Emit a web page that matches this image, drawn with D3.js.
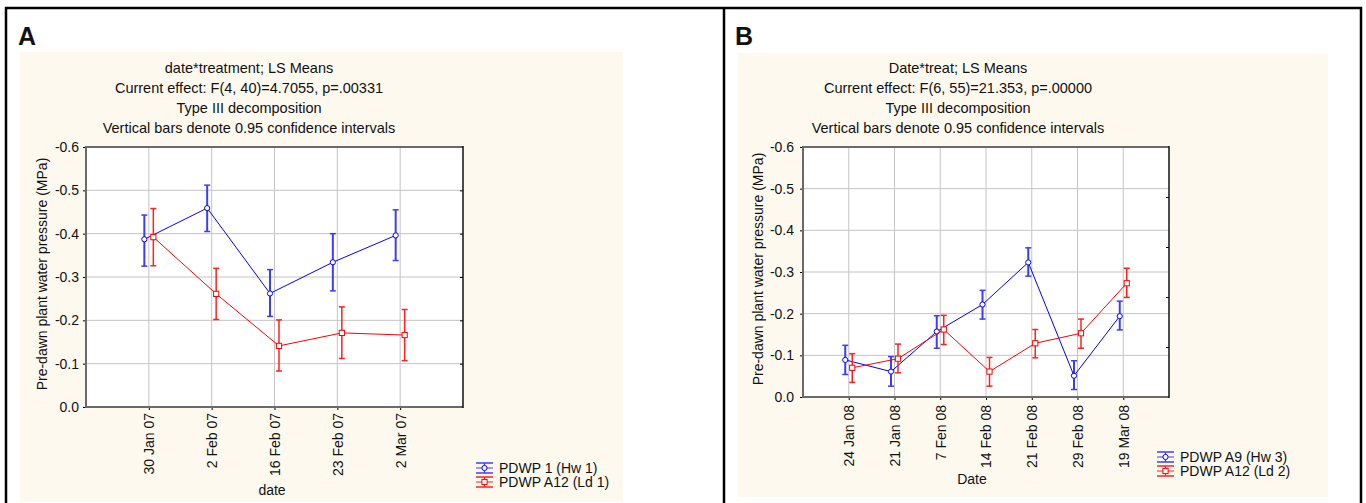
<!DOCTYPE html>
<html>
<head>
<meta charset="utf-8">
<script src="https://cdn.jsdelivr.net/npm/d3@7"></script>
<style>
  body { margin: 0; background: #fff; }
  text { font-family: "Liberation Sans", Arial, sans-serif; fill: #111; }
</style>
</head>
<body>
<svg id="chart" width="1366" height="503"></svg>
<script>
// panel A data
const datesA = ['30 Jan 07', '2 Feb 07', '16 Feb 07', '23 Feb 07', '2 Mar 07'];
const hwA = [-0.387, -0.459, -0.262, -0.334, -0.396];
const hwALo = [-0.325, -0.405, -0.209, -0.268, -0.338];
const hwAHi = [-0.443, -0.512, -0.317, -0.400, -0.455];
const ldA = [-0.392, -0.261, -0.141, -0.171, -0.166];
const ldALo = [-0.326, -0.202, -0.083, -0.112, -0.107];
const ldAHi = [-0.458, -0.320, -0.201, -0.231, -0.225];
const titleA = ['date*treatment; LS Means', 'Current effect: F(4, 40)=4.7055, p=.00331',
  'Type III decomposition', 'Vertical bars denote 0.95 confidence intervals'];
const legendA = ['PDWP 1 (Hw 1)', 'PDWP A12 (Ld 1)'];

// panel B data
const datesB = ['24 Jan 08', '21 Jan 08', '7 Fen 08', '14 Feb 08', '21 Feb 08', '29 Feb 08', '19 Mar 08'];
const hwB = [-0.089, -0.061, -0.157, -0.222, -0.323, -0.051, -0.194];
const hwBLo = [-0.054, -0.026, -0.117, -0.187, -0.290, -0.018, -0.161];
const hwBHi = [-0.124, -0.097, -0.195, -0.256, -0.358, -0.087, -0.230];
const ldB = [-0.070, -0.092, -0.162, -0.061, -0.129, -0.153, -0.273];
const ldBLo = [-0.035, -0.058, -0.126, -0.026, -0.094, -0.117, -0.239];
const ldBHi = [-0.104, -0.127, -0.196, -0.095, -0.162, -0.187, -0.309];
const titleB = ['Date*treat; LS Means', 'Current effect: F(6, 55)=21.353, p=.00000',
  'Type III decomposition', 'Vertical bars denote 0.95 confidence intervals'];
const legendB = ['PDWP A9 (Hw 3)', 'PDWP A12 (Ld 2)'];

const yTicks = [0, -0.1, -0.2, -0.3, -0.4, -0.5, -0.6];
const BLUE = '#0000ff';
const RED = '#ff0000';
const FS = '14px';

const svg = d3.select('#chart');

// outer boxes
svg.append('path')
  .attr('d', 'M6,503 V8 H1361 V503 M724,8 V503')
  .attr('fill', 'none')
  .attr('stroke', '#000')
  .attr('stroke-width', 2.5);

function drawPanel(p) {
  const g = svg.append('g');
  g.append('rect')
    .attr('x', p.cream[0]).attr('y', p.cream[1])
    .attr('width', p.cream[2]).attr('height', p.cream[3])
    .attr('fill', '#fdf9ef');

  g.append('text')
    .attr('x', p.letterX).attr('y', 45)
    .style('font-size', '25px').style('font-weight', 'bold')
    .text(p.letter);

  g.selectAll('.title')
    .data(p.title)
    .enter().append('text')
    .attr('x', p.titleX)
    .attr('y', (d, i) => 73 + i * 20)
    .attr('text-anchor', 'middle')
    .style('font-size', '14.5px')
    .text((d) => d);

  const x = d3.scaleLinear()
    .domain([0, p.dates.length + 1])
    .range([p.left, p.right]);
  const y = d3.scaleLinear()
    .domain([0, -0.6])
    .range([p.bottom, p.top]);
  const cats = p.dates.map((d, i) => i + 1);

  g.append('rect')
    .attr('x', p.left).attr('y', p.top)
    .attr('width', p.right - p.left).attr('height', p.bottom - p.top)
    .attr('fill', '#fff');

  // grid
  g.selectAll('.vgrid')
    .data(cats)
    .enter().append('line')
    .attr('x1', (d) => x(d)).attr('x2', (d) => x(d))
    .attr('y1', p.top).attr('y2', p.bottom)
    .attr('stroke', '#c4c4c4');
  g.selectAll('.hgrid')
    .data(yTicks.slice(1, -1))
    .enter().append('line')
    .attr('x1', p.left).attr('x2', p.right)
    .attr('y1', (d) => y(d)).attr('y2', (d) => y(d))
    .attr('stroke', '#c4c4c4');

  // axes
  const yAxis = d3.axisLeft(y)
    .tickValues(yTicks)
    .tickFormat((d) => d.toFixed(1))
    .tickSize(3)
    .tickPadding(p.yPad);
  const ya = g.append('g')
    .attr('transform', `translate(${p.left},0)`)
    .call(yAxis);
  ya.select('.domain').remove();
  ya.selectAll('text').style('font-size', FS).attr('fill', '#111');

  const rAxis = d3.axisRight(y)
    .tickValues(p.rightTicks)
    .tickFormat('')
    .tickSize(-3);
  const ra = g.append('g')
    .attr('transform', `translate(${p.right},0)`)
    .call(rAxis);
  ra.select('.domain').remove();

  const xAxis = d3.axisBottom(x)
    .tickValues(cats)
    .tickFormat((d) => p.dates[d - 1])
    .tickSize(3);
  const xa = g.append('g')
    .attr('transform', `translate(0,${p.bottom})`)
    .call(xAxis);
  xa.select('.domain').remove();
  xa.selectAll('text')
    .attr('y', 0)
    .attr('x', -p.xPad)
    .attr('dy', '0.35em')
    .attr('transform', 'rotate(-90)')
    .style('text-anchor', 'end')
    .style('font-size', FS)
    .attr('fill', '#111');

  // frame
  g.append('path')
    .attr('d', `M${p.right},${p.top} H${p.left} V${p.bottom} H${p.right}`)
    .attr('fill', 'none').attr('stroke', '#6a6a6a').attr('stroke-width', 2);
  g.append('line')
    .attr('x1', p.right).attr('x2', p.right)
    .attr('y1', p.top - 1).attr('y2', p.bottom + 1)
    .attr('stroke', '#111').attr('stroke-width', 1.5);

  // axis titles
  g.append('text')
    .attr('transform', `translate(${p.yLabelX},${(p.top + p.bottom) / 2 - 3}) rotate(-90)`)
    .attr('text-anchor', 'middle')
    .attr('dy', '0.35em')
    .style('font-size', FS)
    .text('Pre-dawn plant water pressure (MPa)');
  g.append('text')
    .attr('x', p.xLabel[0]).attr('y', p.xLabel[1])
    .attr('text-anchor', 'middle')
    .style('font-size', FS)
    .text(p.xTitle);

  // series
  p.series.forEach((s) => {
    const pts = s.mean.map((v, i) => ({ cx: x(i + 1) + s.off, v, lo: s.lo[i], hi: s.hi[i] }));
    const line = d3.line().x((d) => d.cx).y((d) => y(d.v));
    g.append('path')
      .datum(pts)
      .attr('d', line)
      .attr('fill', 'none')
      .attr('stroke', s.color)
      .attr('stroke-width', 1);
    const bars = g.selectAll(null).data(pts).enter().append('g');
    bars.append('line')
      .attr('x1', (d) => d.cx).attr('x2', (d) => d.cx)
      .attr('y1', (d) => y(d.lo)).attr('y2', (d) => y(d.hi))
      .attr('stroke', s.barColor).attr('stroke-width', s.barWidth);
    [(d) => d.lo, (d) => d.hi].forEach((f) => {
      bars.append('line')
        .attr('x1', (d) => d.cx - 3).attr('x2', (d) => d.cx + 3)
        .attr('y1', (d) => y(f(d))).attr('y2', (d) => y(f(d)))
        .attr('stroke', s.barColor).attr('stroke-width', 1.5);
    });
    if (s.shape === 'circle') {
      bars.append('circle')
        .attr('cx', (d) => d.cx).attr('cy', (d) => y(d.v))
        .attr('r', 2.6)
        .attr('fill', '#fff').attr('stroke', s.color).attr('stroke-width', 1);
    } else {
      bars.append('rect')
        .attr('x', (d) => d.cx - 2.6).attr('y', (d) => y(d.v) - 2.6)
        .attr('width', 5.2).attr('height', 5.2)
        .attr('fill', '#fff').attr('stroke', s.color).attr('stroke-width', 1);
    }
  });

  // legend
  p.series.forEach((s, i) => {
    const ly = p.legend[1] + i * 14;
    const lx = p.legend[0];
    const lg = g.append('g');
    [-5, 0, 5].forEach((dy) => {
      lg.append('line')
        .attr('x1', lx).attr('x2', lx + 17)
        .attr('y1', ly + dy).attr('y2', ly + dy)
        .attr('stroke', s.barColor).attr('stroke-width', dy === 0 ? 1 : 1.5);
    });
    lg.append('line')
      .attr('x1', lx + 8.5).attr('x2', lx + 8.5)
      .attr('y1', ly - 5).attr('y2', ly + 5)
      .attr('stroke', s.barColor).attr('stroke-width', 1.2);
    if (s.shape === 'circle') {
      lg.append('circle').attr('cx', lx + 8.5).attr('cy', ly).attr('r', 2.6)
        .attr('fill', '#fff').attr('stroke', s.color);
    } else {
      lg.append('rect').attr('x', lx + 5.9).attr('y', ly - 2.6)
        .attr('width', 5.2).attr('height', 5.2)
        .attr('fill', '#fff').attr('stroke', s.color);
    }
    lg.append('text')
      .attr('x', lx + 23).attr('y', ly)
      .attr('dy', '0.35em')
      .style('font-size', FS)
      .text(p.legendText[i]);
  });
}

drawPanel({
  letter: 'A', letterX: 18,
  cream: [20, 52, 603, 450],
  title: titleA, titleX: 249,
  left: 86, right: 463, top: 147, bottom: 407,
  dates: datesA, xTitle: 'date',
  yPad: 4, xPad: 6,
  rightTicks: [-0.1, -0.2, -0.3, -0.4, -0.5],
  yLabelX: 42, xLabel: [272, 495],
  legend: [476, 468], legendText: legendA,
  series: [
    { mean: hwA, lo: hwALo, hi: hwAHi, off: -4.5, color: BLUE, barColor: '#3c3cff', barWidth: 2, shape: 'circle' },
    { mean: ldA, lo: ldALo, hi: ldAHi, off: 4.5, color: RED, barColor: '#ff2020', barWidth: 1.5, shape: 'square' },
  ],
});

drawPanel({
  letter: 'B', letterX: 735,
  cream: [738, 53, 590, 444],
  title: titleB, titleX: 958,
  left: 803, right: 1169, top: 147, bottom: 397,
  dates: datesB, xTitle: 'Date',
  yPad: 6, xPad: 8,
  rightTicks: [-0.12, -0.24, -0.36, -0.48],
  yLabelX: 758, xLabel: [972, 484],
  legend: [1157, 457], legendText: legendB,
  series: [
    { mean: hwB, lo: hwBLo, hi: hwBHi, off: -3.5, color: BLUE, barColor: '#3c3cff', barWidth: 2, shape: 'circle' },
    { mean: ldB, lo: ldBLo, hi: ldBHi, off: 3.5, color: RED, barColor: '#ff2020', barWidth: 1.5, shape: 'square' },
  ],
});
</script>
</body>
</html>
